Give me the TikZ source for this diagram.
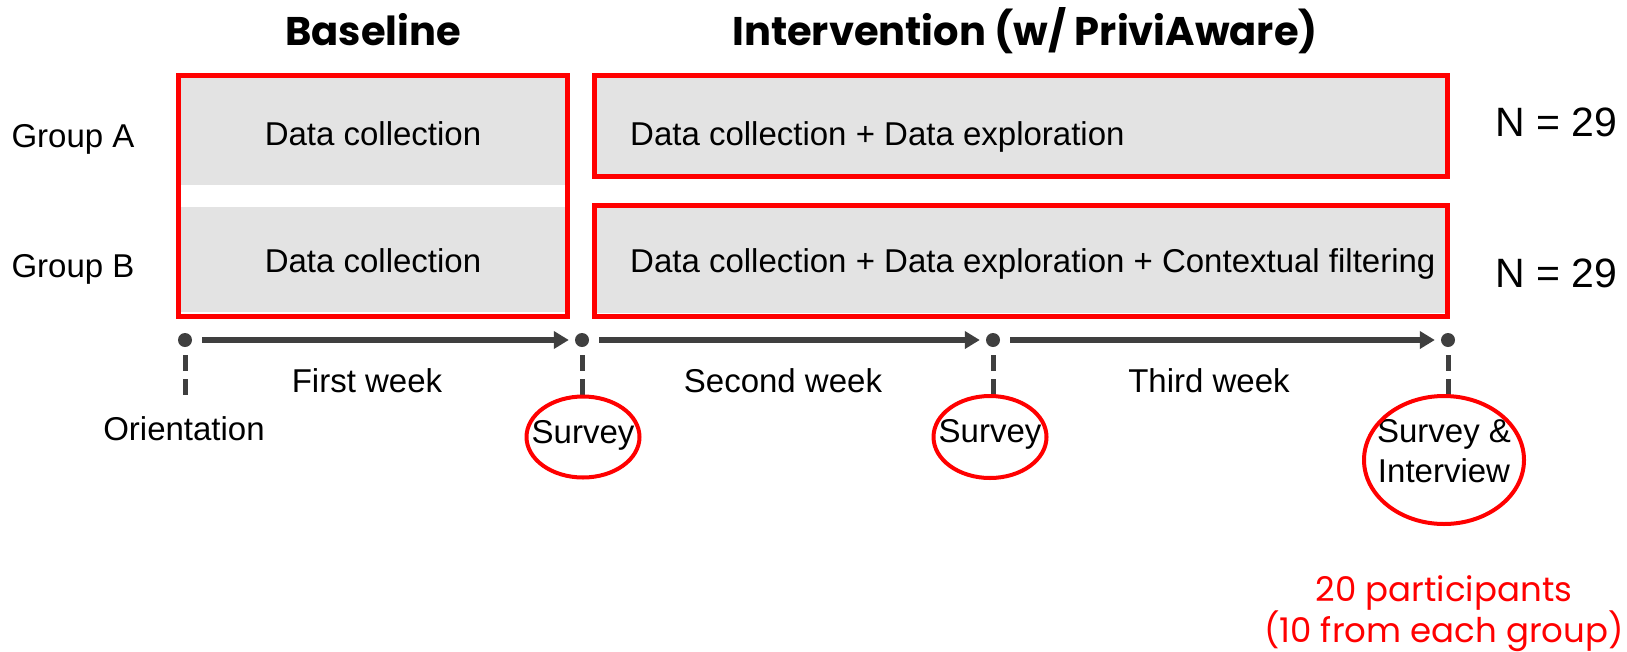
\documentclass[tikz,border=0pt]{standalone}
\usepackage{fontspec}
\setmainfont{Liberation Sans}
\newfontfamily\headfont{Poppins}
\usetikzlibrary{arrows.meta,shapes.geometric,fit}
\definecolor{boxgray}{HTML}{E3E3E3}
\definecolor{hired}{HTML}{FF0000}
\definecolor{axis}{HTML}{3F3F3F}
\begin{document}
\begin{tikzpicture}[x=1pt,y=-1pt,
  body/.style={font=\fontsize{33}{39}\selectfont, inner sep=0pt, anchor=base},
  nlabel/.style={font=\fontsize{41}{48}\selectfont, inner sep=0pt, anchor=base},
  head/.style={font=\headfont\bfseries\fontsize{40}{46}\selectfont, inner sep=0pt, anchor=base},
  note/.style={font=\headfont\fontsize{34}{40}\selectfont, text=hired, inner sep=0pt, anchor=base},
  grayrow/.style={fill=boxgray, draw=none, inner sep=0pt},
  frame/.style={draw=hired, line width=5pt, inner sep=0pt},
  dot/.style={circle, fill=axis, minimum size=14pt, inner sep=0pt},
  week/.style={draw=axis, line width=5.5pt, -{Triangle[length=15pt,width=17pt]},
               shorten <=10pt, shorten >=6pt},
  stem/.style={draw=axis, line width=5pt, dash pattern=on 16pt off 8pt, dash phase=16pt},
  ring/.style={ellipse, draw=hired, line width=4pt, inner sep=0pt}]
\useasboundingbox (0,0) rectangle (1627,651);

% headings
\node[head] (hBase) at (373,45) {Baseline};
\node[head] (hInt) at (1025,45) {Intervention (w/ PriviAware)};

% shaded rows
\node[grayrow, fit={(178,78)(567,185)}] (baseA) {};
\node[grayrow, fit={(178,207)(567,312)}] (baseB) {};
\node[grayrow, fit={(594,76)(1448,177)}] (intA) {};
\node[grayrow, fit={(594,205)(1448,313)}] (intB) {};

% red highlight frames
\node[frame, fit={(178.5,75.5)(567.5,316.5)}] (baseFrame) {};
\node[frame, fit={(594.5,75.5)(1447.5,176.5)}] (intAFrame) {};
\node[frame, fit={(594.5,205.5)(1447.5,316.5)}] (intBFrame) {};

% row texts
\node[body] (grpA) at (73,147) {Group A};
\node[body] (grpB) at (73,277) {Group B};
\node[body] (baseAtxt) at (373,145) {Data collection};
\node[body] (baseBtxt) at (373,272) {Data collection};
\node[body, anchor=base west] (intAtxt) at (630,145) {Data collection + Data exploration};
\node[body, anchor=base west] (intBtxt) at (630,272) {Data collection + Data exploration + Contextual filtering};
\node[nlabel] (nA) at (1556,136) {N = 29};
\node[nlabel] (nB) at (1556,287) {N = 29};

% timeline stems
\coordinate (p0) at (185,340);
\coordinate (p1) at (582,340);
\coordinate (p2) at (993,340);
\coordinate (p3) at (1448,340);
\coordinate (s0) at (185,395);
\coordinate (s1) at (582,395);
\coordinate (s2) at (993,395);
\coordinate (s3) at (1448,395);
\draw[stem] (185,347) -- (s0);
\draw[stem] (582,347) -- (s1);
\draw[stem] (993,347) -- (s2);
\draw[stem] (1448,347) -- (s3);

% milestones
\node[dot] (t0) at (p0) {};
\node[dot] (t1) at (p1) {};
\node[dot] (t2) at (p2) {};
\node[dot] (t3) at (p3) {};
\draw[week] (t0) -- (t1);
\draw[week] (t1) -- (t2);
\draw[week] (t2) -- (t3);

\node[body] (w1) at (367,392) {First week};
\node[body] (w2) at (783,392) {Second week};
\node[body] (w3) at (1209,392) {Third week};

% milestone labels
\node[body] (orient) at (184,440) {Orientation};
\node[body] (sv1) at (583,443) {Survey};
\node[body] (sv2) at (990,442) {Survey};
\node[body] (sv3a) at (1444,442) {Survey \&};
\node[body] (sv3b) at (1444,482) {Interview};
\node[ring, minimum width=113pt, minimum height=81pt] (e1) at (583,437) {};
\node[ring, minimum width=113pt, minimum height=82pt] (e2) at (990,437) {};
\node[ring, minimum width=160pt, minimum height=128pt] (e3) at (1444,460) {};

% interview sample
\node[note] (n1) at (1444,601) {20 participants};
\node[note] (n2) at (1444,642) {(10 from each group)};
\end{tikzpicture}
\end{document}
